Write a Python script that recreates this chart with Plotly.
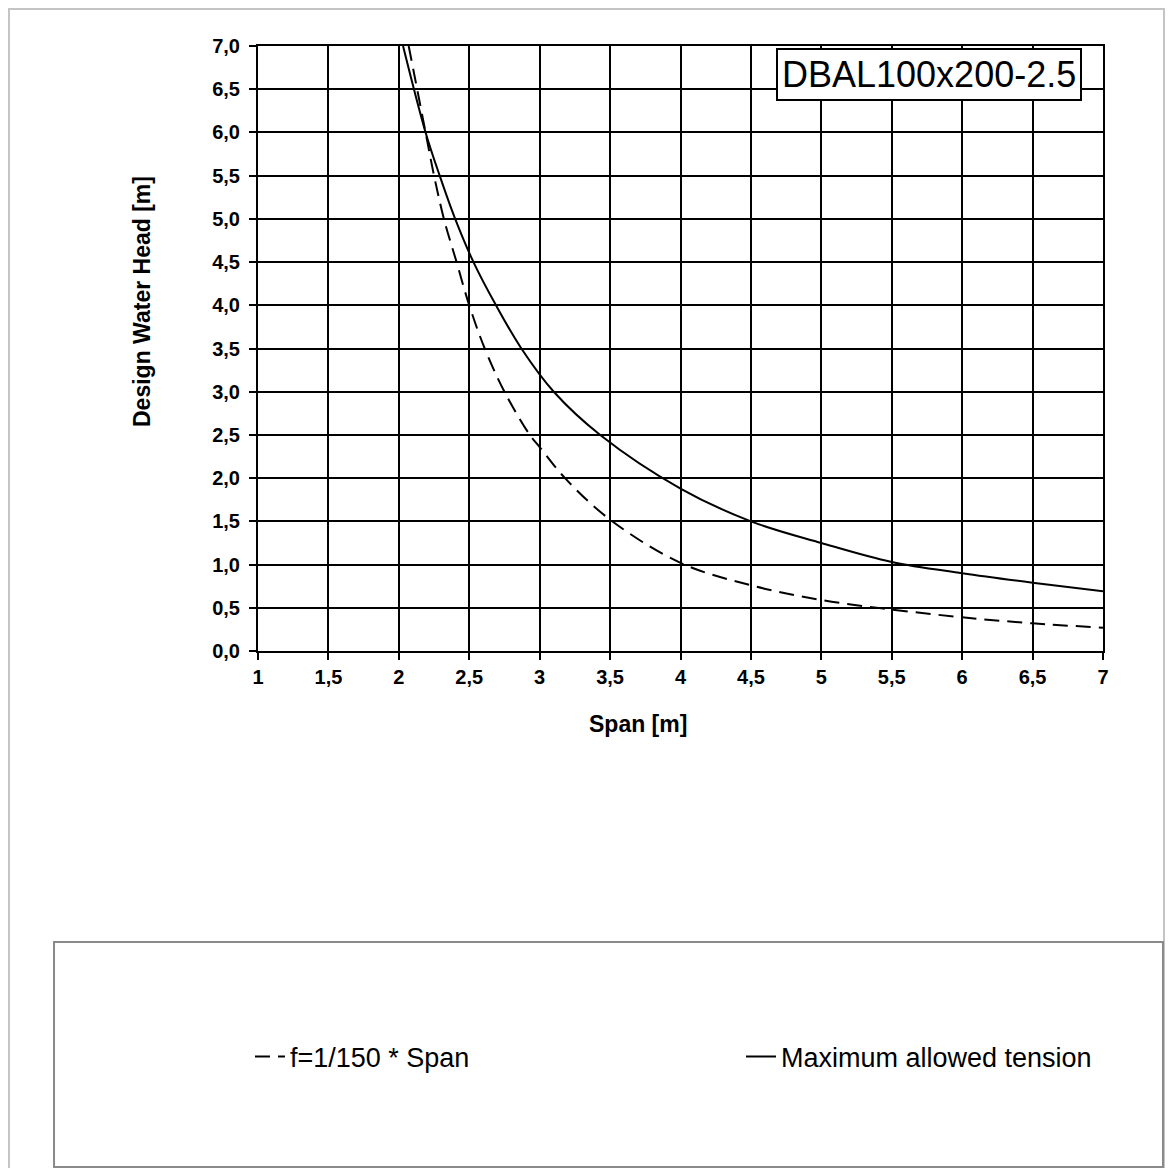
import plotly.graph_objects as go

# ---- data ----
span_deflection = [2.07, 2.19, 2.25, 2.32, 2.41, 2.50, 2.61, 2.75, 2.93, 3.00,
                   3.18, 3.50, 4.00, 4.50, 5.00, 5.50, 6.00, 6.50, 7.00]
head_deflection = [7.00, 6.00, 5.50, 5.00, 4.50, 4.00, 3.50, 3.00, 2.50, 2.36,
                   2.00, 1.52, 1.02, 0.76, 0.59, 0.48, 0.39, 0.32, 0.27]

span_tension = [2.03, 2.19, 2.29, 2.40, 2.53, 2.69, 2.87, 3.10, 3.43,
                4.00, 4.50, 5.00, 5.50, 6.00, 6.50, 7.00]
head_tension = [7.00, 6.00, 5.50, 5.00, 4.50, 4.00, 3.50, 3.00, 2.50,
                1.88, 1.50, 1.25, 1.03, 0.90, 0.79, 0.69]

x_ticks = [1, 1.5, 2, 2.5, 3, 3.5, 4, 4.5, 5, 5.5, 6, 6.5, 7]
x_ticktext = ["1", "1,5", "2", "2,5", "3", "3,5", "4", "4,5", "5", "5,5", "6", "6,5", "7"]
y_ticks = [0, 0.5, 1, 1.5, 2, 2.5, 3, 3.5, 4, 4.5, 5, 5.5, 6, 6.5, 7]
y_ticktext = ["0,0", "0,5", "1,0", "1,5", "2,0", "2,5", "3,0", "3,5",
              "4,0", "4,5", "5,0", "5,5", "6,0", "6,5", "7,0"]

profile_name = "DBAL100x200-2.5"

FONT = "Liberation Sans, Arial, sans-serif"

fig = go.Figure()

# dashed deflection limit
fig.add_trace(go.Scatter(
    x=span_deflection, y=head_deflection,
    mode='lines', name='f=1/150 * Span',
    line=dict(color='black', width=2, dash='15px,8px', shape='spline', smoothing=1.0),
    legend='legend',
))

# solid tension limit
fig.add_trace(go.Scatter(
    x=span_tension, y=head_tension,
    mode='lines', name='Maximum allowed tension',
    line=dict(color='black', width=2, shape='spline', smoothing=1.0),
    legend='legend2',
))

axis_common = dict(
    showgrid=True, gridcolor='black', gridwidth=2,
    zeroline=False,
    showline=True, linecolor='black', linewidth=2, mirror=True,
    ticks='outside', ticklen=7, tickcolor='black', tickwidth=2,
    tickfont=dict(family=FONT, size=20, color='black', weight='bold'),
)

fig.update_layout(
    width=1157, height=1160,
    margin=dict(l=250, r=62, t=38, b=517),
    plot_bgcolor='white', paper_bgcolor='white',
    xaxis=dict(range=[1, 7], tickvals=x_ticks, ticktext=x_ticktext,
               ticklabelstandoff=0, **axis_common),
    yaxis=dict(range=[0, 7], tickvals=y_ticks, ticktext=y_ticktext,
               ticklabelstandoff=5, **axis_common),
    legend=dict(orientation='h', x=-0.0095, xanchor='left', y=-0.671, yanchor='middle',
                font=dict(family=FONT, size=27, color='black'), bgcolor='rgba(0,0,0,0)'),
    legend2=dict(orientation='h', x=0.5716, xanchor='left', y=-0.671, yanchor='middle',
                 font=dict(family=FONT, size=27, color='black'), bgcolor='rgba(0,0,0,0)'),
    showlegend=True,
)

# outer page frame and legend frame
fig.add_shape(type='rect', xref='paper', yref='paper',
              x0=-0.2947, x1=1.0722, y0=-0.95, y1=1.0612,
              line=dict(color='#c4c4c4', width=2), layer='below')
fig.add_shape(type='rect', xref='paper', yref='paper',
              x0=-0.2414, x1=1.0710, y0=-0.853, y1=-0.481,
              line=dict(color='#8a8a8a', width=2), layer='below')

# axis titles
fig.add_annotation(text="Design Water Head [m]", xref='paper', yref='paper',
                   x=-0.1373, y=0.5785, xanchor='center', yanchor='middle',
                   textangle=-90, showarrow=False,
                   font=dict(family=FONT, size=23, color='black', weight='bold'))
fig.add_annotation(text="Span [m]", xref='paper', yref='paper',
                   x=0.4497, y=-0.1207, xanchor='center', yanchor='middle',
                   showarrow=False,
                   font=dict(family=FONT, size=23, color='black', weight='bold'))

# profile label box
fig.add_annotation(text=profile_name, xref='paper', yref='paper',
                   x=0.9751, y=0.9967, xanchor='right', yanchor='top', showarrow=False,
                   font=dict(family=FONT, size=36, color='black'),
                   bgcolor='white', bordercolor='black', borderwidth=2, borderpad=4)

fig.write_html("out.html")
